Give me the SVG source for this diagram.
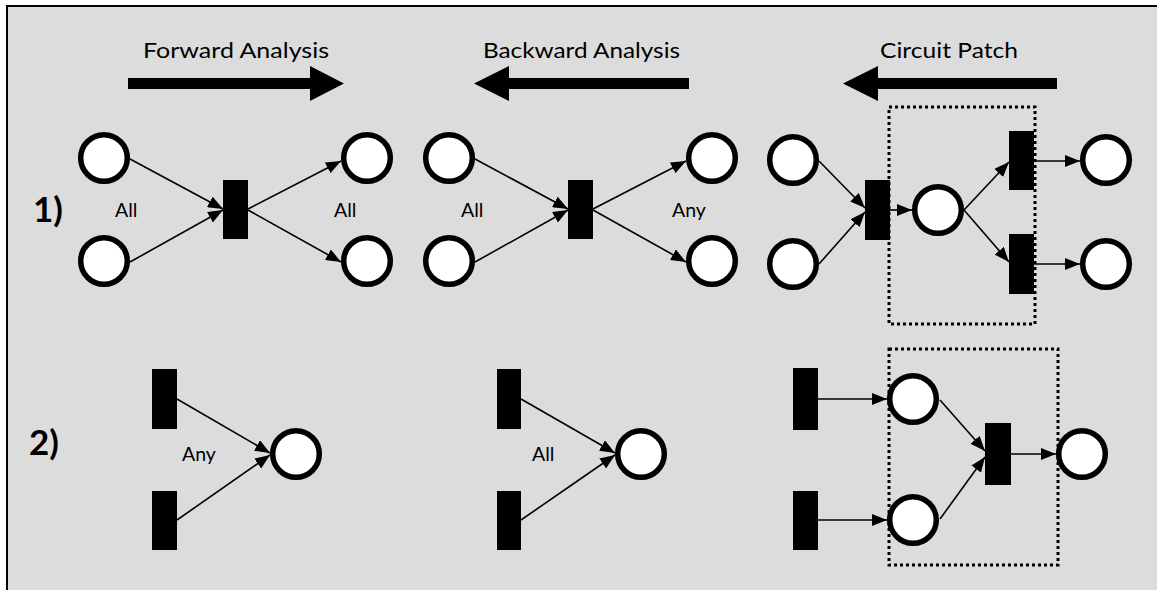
<svg xmlns="http://www.w3.org/2000/svg" width="1157" height="590" viewBox="0 0 1157 590">
<style>
.place{fill:#ffffff;stroke:#000000;stroke-width:5.5}
.trans{fill:#000000}
.edge{stroke:#000000;stroke-width:1.6;fill:none;marker-end:url(#ah)}
.box{fill:none;stroke:#000000;stroke-width:3;stroke-dasharray:3 3}
.title{font-family:Lato,"Liberation Sans",sans-serif;font-size:22px;fill:#000000}
.lbl{font-family:Lato,"Liberation Sans",sans-serif;font-size:19.5px;fill:#000000}
.num{font-family:Lato,"Liberation Sans",sans-serif;font-size:35px;font-weight:bold;fill:#000000}
.big{fill:#000000}
</style>
<defs>
<marker id="ah" markerUnits="userSpaceOnUse" markerWidth="15" markerHeight="12" viewBox="0 0 15 12" refX="15" refY="6" orient="auto">
<path d="M0,0 L15,6 L0,12 z" fill="#000000"/>
</marker>
</defs>
<rect x="7" y="6" width="1170" height="600" fill="#dcdcdc" stroke="#000000" stroke-width="2"/>

<g id="headers">
<text class="title" x="143" y="58" textLength="186" lengthAdjust="spacingAndGlyphs">Forward Analysis</text>
<path class="big" d="M128,78 H310 V66 L344,83.5 L310,101 V89 H128 z"/>
<text class="title" x="483" y="58" textLength="197" lengthAdjust="spacingAndGlyphs">Backward Analysis</text>
<path class="big" d="M689,78 H509 V66 L474,83.5 L509,101 V89 H689 z"/>
<text class="title" x="880" y="58" textLength="138" lengthAdjust="spacingAndGlyphs">Circuit Patch</text>
<path class="big" d="M1057,78 H878 V66 L843,83.5 L878,101 V89 H1057 z"/>
<text class="num" x="33" y="222">1)</text>
<text class="num" x="29" y="455">2)</text>
</g>

<g id="connectors">
<!-- row 1 forward -->
<line class="edge" x1="130" y1="159" x2="223" y2="209"/>
<line class="edge" x1="130" y1="262" x2="223" y2="210"/>
<line class="edge" x1="248" y1="209" x2="341" y2="161"/>
<line class="edge" x1="248" y1="210" x2="341" y2="262"/>
<!-- row 1 backward -->
<line class="edge" x1="475" y1="159" x2="568" y2="209"/>
<line class="edge" x1="475" y1="262" x2="568" y2="210"/>
<line class="edge" x1="593" y1="209" x2="686" y2="161"/>
<line class="edge" x1="593" y1="210" x2="686" y2="262"/>
<!-- row 1 circuit patch -->
<line class="edge" x1="819" y1="161" x2="865" y2="208"/>
<line class="edge" x1="819" y1="264" x2="865" y2="212"/>
<line class="edge" x1="890" y1="210" x2="912" y2="210"/>
<line class="edge" x1="964" y1="210" x2="1009" y2="162"/>
<line class="edge" x1="964" y1="210" x2="1009" y2="262"/>
<line class="edge" x1="1034" y1="161" x2="1080" y2="161"/>
<line class="edge" x1="1034" y1="264" x2="1080" y2="264"/>
<!-- row 2 forward -->
<line class="edge" x1="177" y1="399" x2="270" y2="453"/>
<line class="edge" x1="177" y1="520" x2="270" y2="455"/>
<!-- row 2 backward -->
<line class="edge" x1="521" y1="399" x2="615" y2="453"/>
<line class="edge" x1="521" y1="520" x2="615" y2="455"/>
<!-- row 2 circuit patch -->
<line class="edge" x1="818" y1="399" x2="887" y2="399"/>
<line class="edge" x1="818" y1="520" x2="887" y2="520"/>
<line class="edge" x1="940" y1="400" x2="985" y2="451"/>
<line class="edge" x1="940" y1="519" x2="985" y2="457"/>
<line class="edge" x1="1011" y1="454" x2="1056" y2="454"/>
</g>

<g id="patch-box-1"><rect class="box" x="889" y="107" width="146" height="217"/></g>
<g id="patch-box-2"><rect class="box" x="889" y="349" width="169" height="216"/></g>

<!-- row 1 forward nodes -->
<g id="f1-p1"><circle class="place" cx="104" cy="158" r="23.3"/></g>
<g id="f1-p2"><circle class="place" cx="104" cy="261" r="23.3"/></g>
<g id="f1-t"><rect class="trans" x="223" y="180" width="25" height="59"/></g>
<g id="f1-p3"><circle class="place" cx="367" cy="158" r="23.3"/></g>
<g id="f1-p4"><circle class="place" cx="367" cy="261" r="23.3"/></g>
<g id="f1-lbl"><text class="lbl" x="115" y="217">All</text><text class="lbl" x="334" y="217">All</text></g>

<!-- row 1 backward nodes -->
<g id="b1-p1"><circle class="place" cx="449" cy="158" r="23.3"/></g>
<g id="b1-p2"><circle class="place" cx="449" cy="261" r="23.3"/></g>
<g id="b1-t"><rect class="trans" x="568" y="180" width="25" height="59"/></g>
<g id="b1-p3"><circle class="place" cx="712" cy="158" r="23.3"/></g>
<g id="b1-p4"><circle class="place" cx="712" cy="261" r="23.3"/></g>
<g id="b1-lbl"><text class="lbl" x="461" y="217">All</text><text class="lbl" x="672" y="217">Any</text></g>

<!-- row 1 circuit patch nodes -->
<g id="c1-p1"><circle class="place" cx="793" cy="160" r="23.3"/></g>
<g id="c1-p2"><circle class="place" cx="793" cy="264" r="23.3"/></g>
<g id="c1-t1"><rect class="trans" x="865" y="180" width="25" height="60"/></g>
<g id="c1-p3"><circle class="place" cx="938" cy="210" r="23.3"/></g>
<g id="c1-t2"><rect class="trans" x="1009" y="131" width="25" height="59"/></g>
<g id="c1-t3"><rect class="trans" x="1009" y="234" width="25" height="60"/></g>
<g id="c1-p4"><circle class="place" cx="1106" cy="160" r="23.3"/></g>
<g id="c1-p5"><circle class="place" cx="1106" cy="264" r="23.3"/></g>

<!-- row 2 forward nodes -->
<g id="f2-t1"><rect class="trans" x="152" y="369" width="25" height="60"/></g>
<g id="f2-t2"><rect class="trans" x="152" y="491" width="25" height="59"/></g>
<g id="f2-p"><circle class="place" cx="296" cy="454" r="23.3"/></g>
<g id="f2-lbl"><text class="lbl" x="182" y="461">Any</text></g>

<!-- row 2 backward nodes -->
<g id="b2-t1"><rect class="trans" x="497" y="369" width="24" height="60"/></g>
<g id="b2-t2"><rect class="trans" x="497" y="491" width="24" height="59"/></g>
<g id="b2-p"><circle class="place" cx="641" cy="454" r="23.3"/></g>
<g id="b2-lbl"><text class="lbl" x="532" y="461">All</text></g>

<!-- row 2 circuit patch nodes -->
<g id="c2-t1"><rect class="trans" x="793" y="368" width="25" height="62"/></g>
<g id="c2-t2"><rect class="trans" x="793" y="491" width="25" height="59"/></g>
<g id="c2-p1"><circle class="place" cx="913" cy="399" r="23.3"/></g>
<g id="c2-p2"><circle class="place" cx="913" cy="520" r="23.3"/></g>
<g id="c2-t3"><rect class="trans" x="985" y="423" width="26" height="62"/></g>
<g id="c2-p3"><circle class="place" cx="1082" cy="454" r="23.3"/></g>
</svg>
